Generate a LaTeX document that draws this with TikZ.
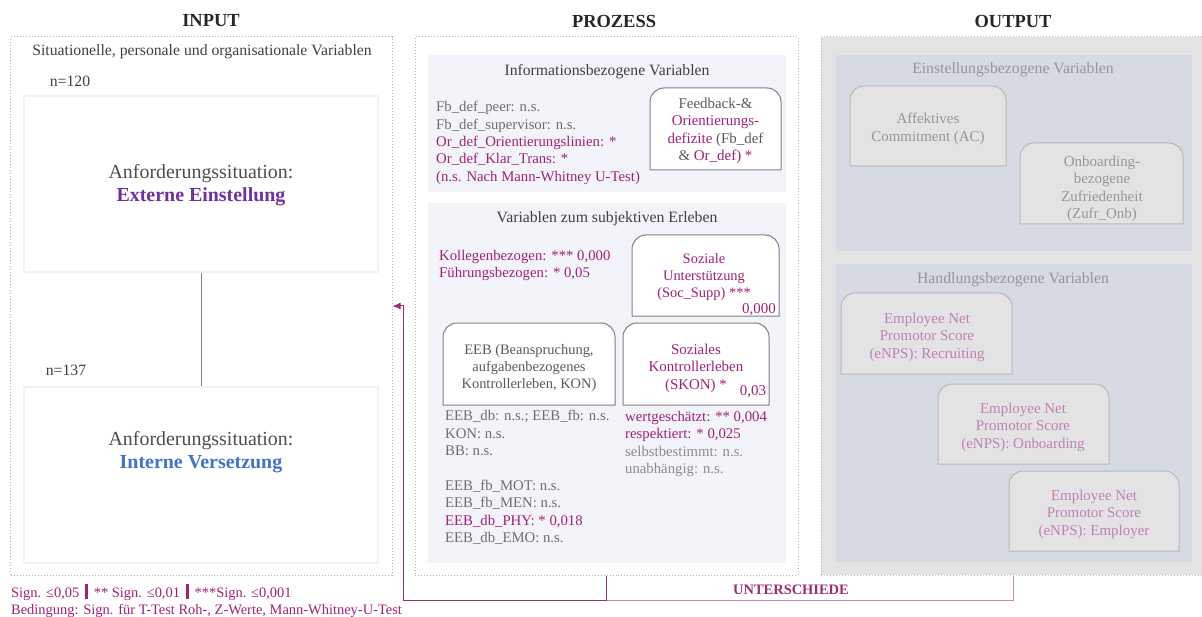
\documentclass[tikz,border=0pt]{standalone}
\usepackage{fontspec}
\setmainfont{Liberation Serif}
\usetikzlibrary{arrows.meta}

\definecolor{sigmag}{RGB}{160,32,120}
\definecolor{nsgray}{RGB}{110,110,110}
\definecolor{nslight}{RGB}{140,140,140}
\definecolor{extpurple}{RGB}{112,48,160}
\definecolor{intblue}{RGB}{68,114,196}
\definecolor{panelfill}{RGB}{243,244,249}
\definecolor{outfill}{RGB}{227,227,227}
\definecolor{outpanel}{RGB}{214,218,226}
\definecolor{outtext}{RGB}{150,150,150}
\definecolor{enpstext}{RGB}{192,128,178}
\definecolor{diffline}{RGB}{155,45,115}

% box with rounded top corners only
\newcommand{\tabbox}[5]{%
  \filldraw[#1] (#2,#5) [rounded corners=14bp] -- (#2,#3) -- (#4,#3) [sharp corners] -- (#4,#5) -- cycle;}
\newcommand{\barsep}{\,\rule[-2bp]{2.5bp}{15bp}\,}

\tikzset{
  frame/.style={draw=gray!60, dotted, line width=1bp},
  inbox/.style={draw=black!5, line width=1.5bp, minimum width=354bp, minimum height=176bp},
  title/.style={font=\fontsize{18.5}{21}\selectfont\bfseries, text=black!85},
  head/.style={font=\fontsize{15.8}{18}\selectfont, text=black!75},
  big/.style={font=\fontsize{20}{23}\selectfont, text=black!70, align=center},
  plist/.style={font=\fontsize{14.8}{17.5}\selectfont, text=nsgray, align=left, anchor=north west, inner sep=0pt},
  btext/.style={font=\fontsize{15}{17.5}\selectfont, text=black!65, align=center, inner sep=0pt},
  tab/.style={draw=black!50, fill=white, line width=1bp},
  outtab/.style={draw=black!28, fill=outfill, line width=1bp},
  diff/.style={draw=diffline, line width=1bp},
}

\begin{document}
\begin{tikzpicture}[x=1bp, y=-1bp]
    \useasboundingbox (0,0) rectangle (1202,617);

    % Column titles
    \node[title] (tin) at (211,21) {INPUT};
    \node[title] (tproz) at (614,21) {PROZESS};
    \node[title] (tout) at (1013,21) {OUTPUT};

    % Input column
    \node[frame, minimum width=381bp, minimum height=538bp] (inp) at (201.5,306) {};
    \node[head] (inhead) at (202,52) {Situationelle, personale und organisationale Variablen};
    \node[head] (n1) at (70,81) {n=120};
    \node[inbox] (ext) at (201,184) {};
    \node[big] (extlbl) at (201,185) {Anforderungssituation:\\{\bfseries\color{extpurple}Externe Einstellung}};
    \node[head] (n2) at (66,370) {n=137};
    \node[inbox] (int) at (201,475) {};
    \node[big] (intlbl) at (201,452) {Anforderungssituation:\\{\bfseries\color{intblue}Interne Versetzung}};
    \draw[black!50, line width=1bp] (ext) -- (int);

    % Legend
    \node[plist, font=\fontsize{14.5}{17}\selectfont, text=sigmag] (legend) at (11,584) {Sign. ≤0,05 \barsep{} ** Sign. ≤0,01 \barsep{} ***Sign. ≤0,001\\Bedingung: Sign. für T-Test Roh-, Z-Werte, Mann-Whitney-U-Test};

    % Process column
    \node[frame, minimum width=383bp, minimum height=538bp] (proz) at (606.5,306) {};

    % information related variables
    \fill[panelfill] (428,55) rectangle (786,192);
    \node[head] (infohead) at (607,72) {Informationsbezogene Variablen};
    \node[plist] (infolist) at (436,101) {Fb\_def\_peer: n.s.\\Fb\_def\_supervisor: n.s.\\{\color{sigmag}Or\_def\_Orientierungslinien: *}\\{\color{sigmag}Or\_def\_Klar\_Trans: *}\\{\color{sigmag}(n.s. Nach Mann-Whitney U-Test)}};
    \tabbox{tab}{650}{88}{781}{170}
    \node[btext] (fbtxt) at (715.5,131) {Feedback-\&\\{\color{sigmag}Orientierungs-}\\{\color{sigmag}defizite} (Fb\_def\\\& {\color{sigmag}Or\_def) *}};

    % subjective experience
    \fill[panelfill] (428,203) rectangle (786,563);
    \node[head] (erlhead) at (607,219) {Variablen zum subjektiven Erleben};
    \node[plist, text=sigmag] (social) at (439,250) {Kollegenbezogen: *** 0,000\\Führungsbezogen: * 0,05};
    \tabbox{tab}{632}{235}{779}{316}
    \node[btext, font=\fontsize{14.5}{17.5}\selectfont, text=sigmag] (supptxt) at (704,277) {Soziale\\Unterstützung\\(Soc\_Supp) ***\hspace{8bp}};
    \node[btext, text=sigmag] (suppval) at (759,310) {0,000};
    \tabbox{tab}{443}{323}{615}{405}
    \node[btext, font=\fontsize{14.5}{17.5}\selectfont] (eebtxt) at (529,368) {EEB (Beanspruchung,\\aufgabenbezogenes\\Kontrollerleben, KON)};
    \tabbox{tab}{623}{323}{769}{405}
    \node[btext, text=sigmag] (skontxt) at (696,368) {Soziales\\Kontrollerleben\\(SKON) *\hspace{20bp}};
    \node[btext, text=sigmag] (skonval) at (753,392) {0,03};
    \node[plist] (eeblist) at (445,410) {EEB\_db: n.s.; EEB\_fb: n.s.\\KON: n.s.\\BB: n.s.\\[17.5bp]EEB\_fb\_MOT: n.s.\\EEB\_fb\_MEN: n.s.\\{\color{sigmag}EEB\_db\_PHY: * 0,018}\\EEB\_db\_EMO: n.s.};
    \node[plist] (skonlist) at (625,411) {{\color{sigmag}wertgeschätzt: ** 0,004}\\{\color{sigmag}respektiert: * 0,025}\\{\color{nslight}selbstbestimmt: n.s.}\\{\color{nslight}unabhängig: n.s.}};

    % Output column
    \node[frame, draw=gray!55, fill=outfill, minimum width=384bp, minimum height=538bp] (outp) at (1013,306) {};

    % attitude related variables
    \fill[outpanel] (836,55) rectangle (1192,251);
    \node[head, text=outtext] (einhead) at (1013,70) {Einstellungsbezogene Variablen};
    \tabbox{outtab}{850}{86}{1006}{166}
    \node[btext, text=outtext] (actxt) at (928,129) {Affektives\\Commitment (AC)};
    \tabbox{outtab}{1020}{143}{1183}{224}
    \node[btext, text=outtext] (zufrtxt) at (1102,189) {Onboarding-\\bezogene\\Zufriedenheit\\(Zufr\_Onb)};

    % action related variables
    \fill[outpanel] (836,264) rectangle (1192,562);
    \node[head, text=outtext] (handhead) at (1013,280) {Handlungsbezogene Variablen};
    \tabbox{outtab}{841}{293}{1012}{374}
    \node[btext, text=enpstext] (np1) at (927,337) {Employee Net\\Promotor Score\\(eNPS): Recruiting};
    \tabbox{outtab}{938}{384}{1109}{464}
    \node[btext, text=enpstext] (np2) at (1023,427) {Employee Net\\Promotor Score\\(eNPS): Onboarding};
    \tabbox{outtab}{1009}{471}{1179}{551}
    \node[btext, text=enpstext] (np3) at (1094,514) {Employee Net\\Promotor Score\\(eNPS): Employer};

    % Differences bracket
    \coordinate (turn) at (403,600);
    \draw[diff, -{Latex[length=8bp,width=7bp]}] (proz.south) |- (turn) |- (inp.east);
    \draw[diff, draw=diffline!55] (proz.south |- turn) -| (outp.south);
    \node[font=\fontsize{14.5}{17}\selectfont\bfseries, text=diffline] (difflbl) at (791,590) {UNTERSCHIEDE};
\end{tikzpicture}
\end{document}
